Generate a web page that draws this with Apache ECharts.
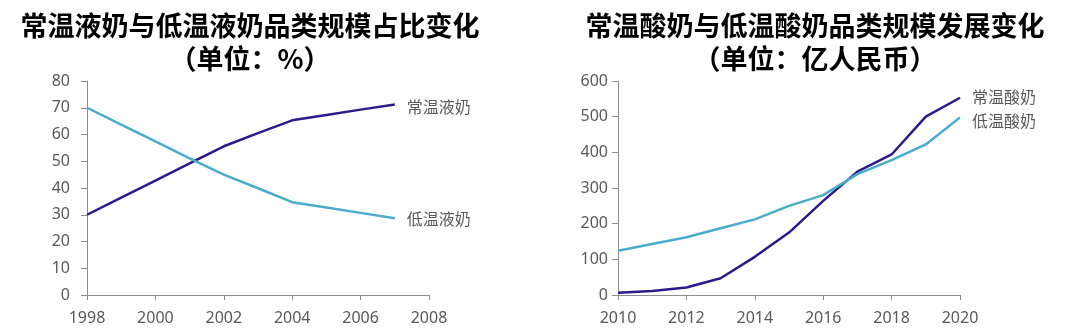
<!DOCTYPE html>
<html>
<head>
<meta charset="utf-8">
<script src="https://cdn.jsdelivr.net/npm/echarts@6/dist/echarts.min.js"></script>
<style>
  html, body { margin: 0; padding: 0; background: #fff; }
  #chart { width: 1080px; height: 335px; }
</style>
</head>
<body>
<div id="chart"></div>
<script>
// Liquid milk share (%), 1998–2007
const liquidYears = [1998, 1999, 2000, 2001, 2002, 2003, 2004, 2005, 2006, 2007];
const ambientLiquid = [30, 36.4, 42.8, 49.2, 55.6, 60.5, 65.3, 67.3, 69.3, 71.2];
const chilledLiquid = [70, 63.7, 57.4, 51.1, 45, 39.9, 34.7, 32.7, 30.7, 28.7];

// Yogurt market size (100M RMB), 2010–2020
const yogurtYears = [2010, 2011, 2012, 2013, 2014, 2015, 2016, 2017, 2018, 2019, 2020];
const ambientYogurt = [6, 11, 21, 47, 107, 175, 264, 346, 394, 500, 553];
const chilledYogurt = [124, 143, 162, 187, 212, 250, 280, 339, 378, 422, 498];

const titles = [
  '常温液奶与低温液奶品类规模占比变化\n（单位：%）',
  '常温酸奶与低温酸奶品类规模发展变化\n（单位：亿人民币）'
];
const seriesNames = ['常温液奶', '低温液奶', '常温酸奶', '低温酸奶'];

const DARK = '#2c1a8c';
const LIGHT = '#4aaccb';
const GREY_TEXT = '#595959';
const AXIS_GREY = '#8c8c8c';
const NUM_FONT = '"Noto Sans", "Open Sans", sans-serif';
const CJK_FONT = '"Noto Sans CJK SC", sans-serif';

const pairs = (xs, ys) => xs.map((x, i) => [x, ys[i]]);

function xAxisOf(gridIndex, min, max) {
  return {
    type: 'value', gridIndex, min, max, interval: 2,
    axisLine: { show: true, lineStyle: { color: AXIS_GREY, width: 1 } },
    axisTick: { show: true, length: 5, lineStyle: { color: AXIS_GREY } },
    splitLine: { show: false },
    axisLabel: { color: GREY_TEXT, fontSize: 16, fontFamily: NUM_FONT, margin: 15,
                 formatter: v => String(v) }
  };
}
function yAxisOf(gridIndex, max, interval, margin) {
  return {
    type: 'value', gridIndex, min: 0, max, interval,
    axisLine: { show: true, lineStyle: { color: AXIS_GREY, width: 1 } },
    axisTick: { show: true, length: 6, lineStyle: { color: AXIS_GREY } },
    splitLine: { show: false },
    axisLabel: { color: GREY_TEXT, fontSize: 16, fontFamily: NUM_FONT, margin }
  };
}
function lineSeries(name, data, color, idx, labelOffset) {
  return {
    name, type: 'line', xAxisIndex: idx, yAxisIndex: idx, data,
    showSymbol: false, symbol: 'none', animation: false,
    lineStyle: { color, width: 2.5 },
    endLabel: {
      show: true, formatter: '{a}', distance: 12, offset: labelOffset || [0, 0],
      color: GREY_TEXT, fontSize: 16, fontFamily: CJK_FONT
    }
  };
}

const chart = echarts.init(document.getElementById('chart'), null, { renderer: 'canvas' });
chart.setOption({
  backgroundColor: '#fff',
  animation: false,
  title: titles.map((t, i) => ({
    text: t,
    left: i === 0 ? 245 : 810,
    top: 4,
    textAlign: 'center',
    textStyle: { color: '#000', fontSize: 27, fontWeight: 'bold', fontFamily: CJK_FONT,
                 lineHeight: 33, align: 'center' }
  })),
  grid: [
    { left: 87, right: 1080 - 429, top: 81, bottom: 40 },
    { left: 618, right: 1080 - 960, top: 81, bottom: 40 }
  ],
  xAxis: [xAxisOf(0, 1998, 2008), xAxisOf(1, 2010, 2020)],
  yAxis: [yAxisOf(0, 80, 10, 17), yAxisOf(1, 600, 100, 10)],
  series: [
    lineSeries(seriesNames[0], pairs(liquidYears, ambientLiquid), DARK, 0, [0, 2]),
    lineSeries(seriesNames[1], pairs(liquidYears, chilledLiquid), LIGHT, 0, [0, 1]),
    lineSeries(seriesNames[2], pairs(yogurtYears, ambientYogurt), DARK, 1, [0, -1]),
    lineSeries(seriesNames[3], pairs(yogurtYears, chilledYogurt), LIGHT, 1, [0, 4])
  ]
});
</script>
</body>
</html>
